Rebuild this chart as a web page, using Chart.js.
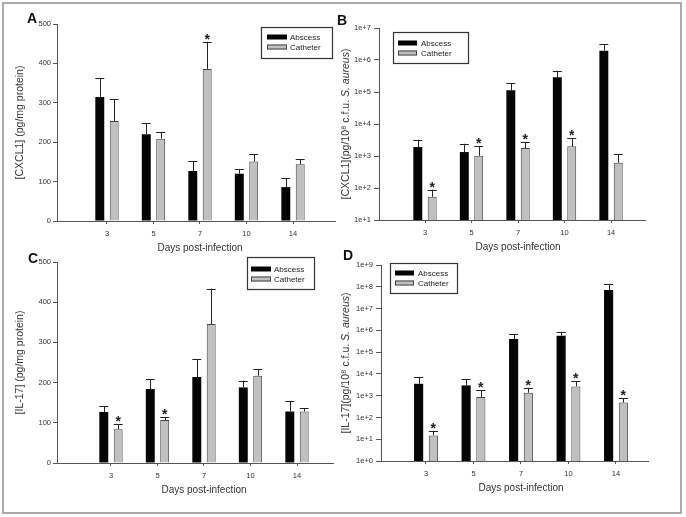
<!DOCTYPE html>
<html>
<head>
<meta charset="utf-8">
<script src="https://cdn.jsdelivr.net/npm/chart.js@4.4.1/dist/chart.umd.min.js"></script>
<style>
  html, body { margin: 0; padding: 0; background: #fff; }
  #fig { position: relative; width: 686px; height: 517px; overflow: hidden; }
  #frame { position: absolute; left: 2px; top: 2px; width: 680px; height: 512px; box-sizing: border-box; border: 2px solid #aaa; }
  canvas { position: absolute; left: 0; top: 0; }
  .lab { position: absolute; font: bold 14px 'Liberation Sans', Arial, sans-serif; line-height: 14px; color: #111; }
</style>
</head>
<body>
<div id="fig">
  <div id="frame"></div>
  <canvas id="cA" width="686" height="517"></canvas>
  <canvas id="cB" width="686" height="517"></canvas>
  <canvas id="cC" width="686" height="517"></canvas>
  <canvas id="cD" width="686" height="517"></canvas>
  <div class="lab" style="left:27px;top:11px">A</div>
  <div class="lab" style="left:337px;top:13px">B</div>
  <div class="lab" style="left:28px;top:251px">C</div>
  <div class="lab" style="left:343px;top:248px">D</div>
</div>
<script>
/* categories */
var days = ['3', '5', '7', '10', '14'];

/* A — CXCL1 per mg protein */
var aAbs     = [315, 220, 127, 120, 86];
var aAbsErr  = [48, 28, 25, 12, 22];
var aCath    = [254, 209, 386, 151, 144];
var aCathErr = [55, 16, 69, 19, 13];
var aStars   = [0, 0, 1, 0, 0];

/* B — CXCL1 per 10^8 cfu (log) */
var bAbs     = [1900, 1330, 113000, 290000, 1960000];
var bAbsErr  = [1300, 1070, 73000, 170000, 1140000];
var bCath    = [53, 1020, 1770, 2000, 620];
var bCathErr = [36, 1030, 1000, 1700, 500];
var bStars   = [1, 1, 1, 1, 0];

/* C — IL-17 per mg protein */
var cAbs     = [127, 184, 214, 188, 128];
var cAbsErr  = [14, 25, 44, 17, 25];
var cCath    = [84, 107, 346, 217, 128];
var cCathErr = [12, 7, 88, 17, 8];
var cStars   = [1, 1, 0, 0, 0];

/* D — IL-17 per 10^8 cfu (log) */
var dAbs     = [3500, 2950, 400000, 570000, 71000000];
var dAbsErr  = [3400, 2750, 260000, 280000, 66000000];
var dCath    = [15, 870, 1370, 2650, 480];
var dCathErr = [9, 880, 930, 2000, 300];
var dStars   = [1, 1, 1, 1, 1];

/* y tick values */
var linTicks = [0, 100, 200, 300, 400, 500];
var bTicks   = [1e1, 1e2, 1e3, 1e4, 1e5, 1e6, 1e7];
var dTicks   = [1e0, 1e1, 1e2, 1e3, 1e4, 1e5, 1e6, 1e7, 1e8, 1e9];

var FONT = "'Liberation Sans', Arial, sans-serif";
var INK = '#333';

/* upward error bars + significance stars */
var errorBars = {
  id: 'errorBars',
  afterDatasetsDraw: function (chart) {
    var ctx = chart.ctx, ys = chart.scales.y;
    ctx.save();
    chart.data.datasets.forEach(function (ds, i) {
      chart.getDatasetMeta(i).data.forEach(function (bar, j) {
        var v = ds.data[j].y;
        var top = ys.getPixelForValue(v + ds.err[j]);
        var half = bar.width / 2;
        ctx.strokeStyle = '#222';
        ctx.lineWidth = 1;
        ctx.beginPath();
        ctx.moveTo(Math.round(bar.x) + 0.5, bar.y);
        ctx.lineTo(Math.round(bar.x) + 0.5, top);
        ctx.moveTo(bar.x - half, Math.round(top) + 0.5);
        ctx.lineTo(bar.x + half, Math.round(top) + 0.5);
        ctx.stroke();
        if (ds.stars && ds.stars[j]) {
          ctx.fillStyle = '#222';
          ctx.font = 'bold 14px ' + FONT;
          ctx.textAlign = 'center';
          ctx.textBaseline = 'alphabetic';
          ctx.fillText('*', bar.x, top + 2);
        }
      });
    });
    ctx.restore();
  }
};

/* axis titles: x centred on the middle day, y with italic species name */
var axisTitles = {
  id: 'axisTitles',
  afterDraw: function (chart, args, o) {
    var ctx = chart.ctx, xs = chart.scales.x, ys = chart.scales.y;
    ctx.save();
    ctx.fillStyle = INK;
    ctx.textBaseline = 'middle';
    ctx.textAlign = 'center';
    ctx.font = '10px ' + FONT;
    ctx.fillText('Days post-infection', xs.getPixelForValue(2), xs.top + 27);

    ctx.translate(o.yx, (ys.top + ys.bottom) / 2);
    ctx.rotate(-Math.PI / 2);
    ctx.textAlign = 'left';
    var total = 0;
    o.yParts.forEach(function (p) {
      ctx.font = (p.it ? 'italic ' : '') + '10.5px ' + FONT;
      total += ctx.measureText(p.t).width;
    });
    var x = -total / 2;
    o.yParts.forEach(function (p) {
      ctx.font = (p.it ? 'italic ' : '') + '10.5px ' + FONT;
      ctx.fillText(p.t, x, 0);
      x += ctx.measureText(p.t).width;
    });
    ctx.restore();
  }
};

/* boxed legend placed inside the plot */
var boxLegend = {
  id: 'boxLegend',
  afterDraw: function (chart, args, o) {
    var ctx = chart.ctx;
    ctx.save();
    ctx.strokeStyle = '#333';
    ctx.lineWidth = 1.2;
    ctx.strokeRect(o.x + 0.5, o.y + 0.5, o.w, o.h);
    chart.data.datasets.forEach(function (ds, i) {
      var sy = o.y + o.row0 + i * 10;
      ctx.fillStyle = ds.backgroundColor;
      ctx.fillRect(o.x + o.sx, sy - 2.5, o.sw, 5);
      if (ds.borderWidth) {
        ctx.strokeStyle = ds.borderColor;
        ctx.lineWidth = 1;
        ctx.strokeRect(o.x + o.sx + 0.5, sy - 2, o.sw - 1, 4);
      }
      ctx.fillStyle = '#222';
      ctx.font = '8px ' + FONT;
      ctx.textAlign = 'left';
      ctx.textBaseline = 'middle';
      ctx.fillText(ds.label, o.x + o.tx, sy + 0.5);
    });
    ctx.restore();
  }
};

function pts(arr) {
  return arr.map(function (v, i) { return { x: i, y: v }; });
}

function panel(id, o) {
  var logY = o.log;
  return new Chart(document.getElementById(id), {
    type: 'bar',
    data: {
      datasets: [
        { label: 'Abscess', data: pts(o.abs), err: o.absErr, backgroundColor: '#050505', borderWidth: 0,
          categoryPercentage: 0.62, barPercentage: 0.62 },
        { label: 'Catheter', data: pts(o.cath), err: o.cathErr, stars: o.stars, backgroundColor: '#c0c0c0',
          borderColor: '#444', borderWidth: 1, categoryPercentage: 0.62, barPercentage: 0.62 }
      ]
    },
    options: {
      responsive: false,
      animation: false,
      devicePixelRatio: 1,
      layout: { padding: o.pad },
      plugins: {
        legend: { display: false }, tooltip: { enabled: false },
        boxLegend: o.legend,
        axisTitles: { yx: o.yx, yParts: o.yParts }
      },
      scales: {
        x: {
          type: 'linear', min: o.xMin, max: o.xMax, offset: false,
          afterBuildTicks: function (s) { s.ticks = days.map(function (d, i) { return { value: i }; }); },
          afterFit: function (s) { s.height = 33; },
          ticks: { callback: function (v) { return days[v]; }, font: { size: 7.5, family: FONT }, color: INK, padding: 5, autoSkip: false, maxRotation: 0 },
          grid: { drawOnChartArea: false, offset: false, tickLength: 3, color: '#555' },
          border: { color: '#555' }
        },
        y: {
          type: logY ? 'logarithmic' : 'linear', min: o.yTicks[0], max: o.yTicks[o.yTicks.length - 1],
          afterBuildTicks: function (s) { s.ticks = o.yTicks.map(function (v) { return { value: v }; }); },
          afterFit: function (s) { s.width = o.yW; },
          ticks: {
            callback: function (v) { return logY ? '1e+' + Math.round(Math.log10(v)) : v; },
            font: { size: 7.5, family: FONT }, color: INK, padding: logY ? 3 : 2
          },
          grid: { drawOnChartArea: false, tickLength: logY ? 5 : 4, color: '#555' },
          border: { color: '#555' }
        }
      }
    },
    plugins: [errorBars, axisTitles, boxLegend]
  });
}

panel('cA', {
  abs: aAbs, absErr: aAbsErr, cath: aCath, cathErr: aCathErr, stars: aStars,
  yTicks: linTicks, yW: 57, yx: 20,
  yParts: [{ t: '[CXCL1] (pg/mg protein)' }],
  xMin: -1.075, xMax: 4.903,
  pad: { left: 0, top: 24, right: 351, bottom: 263 },
  legend: { x: 261, y: 27, w: 71, h: 31, row0: 10, sx: 6, sw: 20, tx: 29 }
});

panel('cB', {
  log: true, abs: bAbs, absErr: bAbsErr, cath: bCath, cathErr: bCathErr, stars: bStars,
  yTicks: bTicks, yW: 39, yx: 346,
  yParts: [{ t: '[CXCL1](pg/10\u2078 c.f.u. ' }, { t: 'S. aureus', it: true }, { t: ')' }],
  xMin: -0.989, xMax: 4.73,
  pad: { left: 340, top: 28, right: 41, bottom: 264 },
  legend: { x: 393, y: 32, w: 75, h: 31, row0: 11, sx: 5, sw: 19, tx: 28 }
});

panel('cC', {
  abs: cAbs, absErr: cAbsErr, cath: cCath, cathErr: cCathErr, stars: cStars,
  yTicks: linTicks, yW: 57, yx: 20,
  yParts: [{ t: '[IL-17] (pg/mg protein)' }],
  xMin: -1.161, xMax: 4.774,
  pad: { left: 0, top: 262, right: 353, bottom: 21 },
  legend: { x: 247, y: 257, w: 67, h: 32, row0: 12, sx: 4, sw: 20, tx: 27 }
});

panel('cD', {
  log: true, abs: dAbs, absErr: dAbsErr, cath: dCath, cathErr: dCathErr, stars: dStars,
  yTicks: dTicks, yW: 41, yx: 346,
  yParts: [{ t: '[IL-17](pg/10\u2078 c.f.u. ' }, { t: 'S. aureus', it: true }, { t: ')' }],
  xMin: -0.947, xMax: 4.674,
  pad: { left: 340, top: 265, right: 38, bottom: 23 },
  legend: { x: 390, y: 263, w: 67, h: 30, row0: 10, sx: 5, sw: 19, tx: 28 }
});
</script>
</body>
</html>
